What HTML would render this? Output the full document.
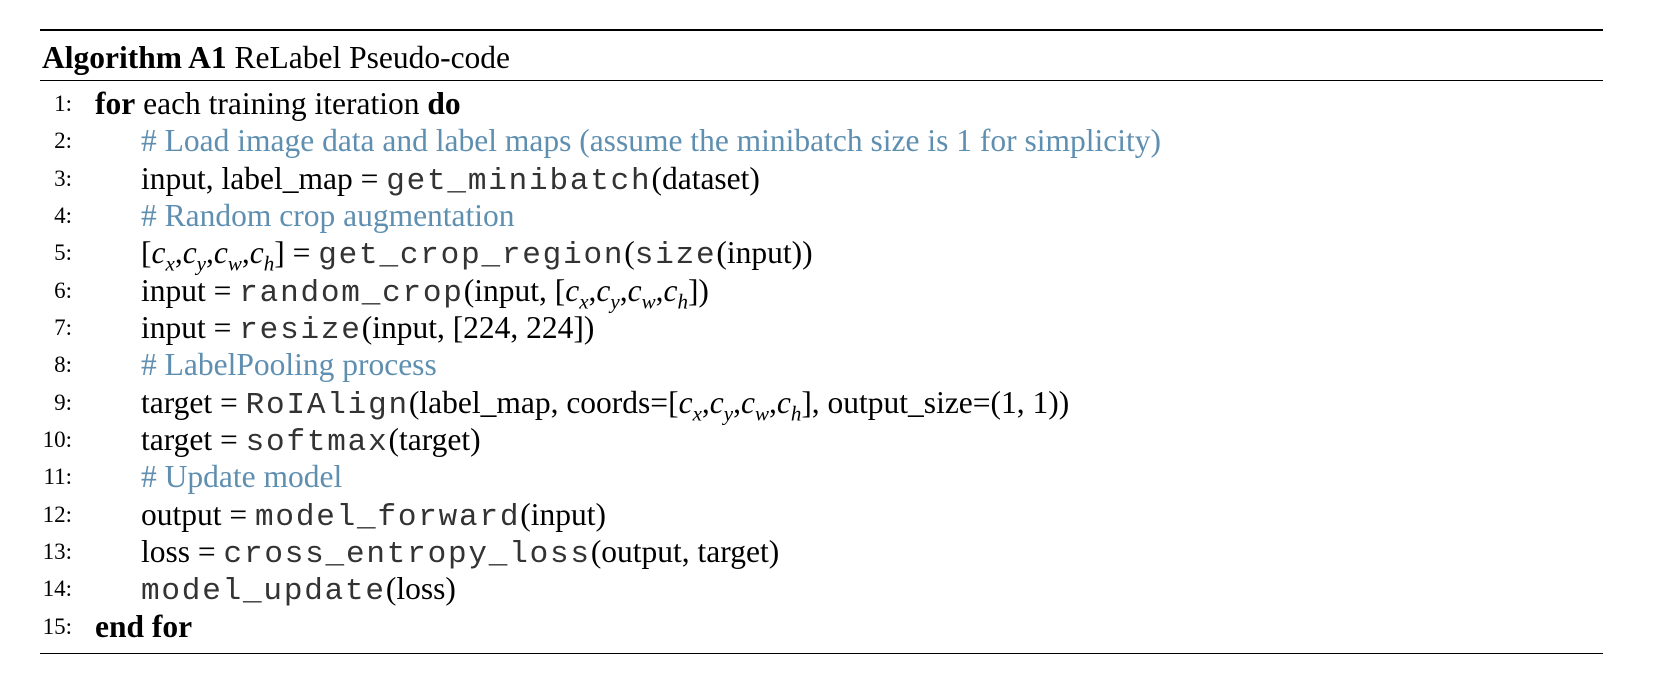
<!DOCTYPE html>
<html><head><meta charset="utf-8"><style>
body{margin:0;width:1658px;height:698px;background:#fff;position:relative;overflow:hidden;font-family:"Liberation Serif",serif;color:#000}
.rule{position:absolute;left:40px;width:1563px;background:#000}
.ln{position:absolute;left:0;width:1658px;height:38px;line-height:38px;font-size:31.5px;white-space:nowrap}
.num{position:absolute;left:0;width:72px;font-size:23px;text-align:right}
.txt{position:absolute}
.c{color:#5f8fb0}
.m{font-family:"Liberation Mono",monospace;font-size:31px;letter-spacing:1.8px;color:#333}
i sub{font-size:21px}
b{font-weight:bold}
</style></head><body>
<div class="rule" style="top:29px;height:2px"></div>
<div class="ln" style="top:39px;left:42px"><b>Algorithm A1</b> ReLabel Pseudo-code</div>
<div class="rule" style="top:80px;height:1px"></div>

<div class="ln" style="top:85px"><span class="num">1:</span><span class="txt" style="left:95px"><b>for</b> each training iteration <b>do</b></span></div>
<div class="ln" style="top:122px"><span class="num">2:</span><span class="txt c" style="left:141px"># Load image data and label maps (assume the minibatch size is 1 for simplicity)</span></div>
<div class="ln" style="top:160px"><span class="num">3:</span><span class="txt" style="left:141px">input, label_map = <span class="m">get_minibatch</span>(dataset)</span></div>
<div class="ln" style="top:197px"><span class="num">4:</span><span class="txt c" style="left:141px"># Random crop augmentation</span></div>
<div class="ln" style="top:234px"><span class="num">5:</span><span class="txt" style="left:141px">[<i>c<sub>x</sub></i>,<i>c<sub>y</sub></i>,<i>c<sub>w</sub></i>,<i>c<sub>h</sub></i>] = <span class="m">get_crop_region</span>(<span class="m">size</span>(input))</span></div>
<div class="ln" style="top:272px"><span class="num">6:</span><span class="txt" style="left:141px">input = <span class="m">random_crop</span>(input, [<i>c<sub>x</sub></i>,<i>c<sub>y</sub></i>,<i>c<sub>w</sub></i>,<i>c<sub>h</sub></i>])</span></div>
<div class="ln" style="top:309px"><span class="num">7:</span><span class="txt" style="left:141px">input = <span class="m">resize</span>(input, [224, 224])</span></div>
<div class="ln" style="top:346px"><span class="num">8:</span><span class="txt c" style="left:141px"># LabelPooling process</span></div>
<div class="ln" style="top:384px"><span class="num">9:</span><span class="txt" style="left:141px">target = <span class="m">RoIAlign</span>(label_map, coords=[<i>c<sub>x</sub></i>,<i>c<sub>y</sub></i>,<i>c<sub>w</sub></i>,<i>c<sub>h</sub></i>], output_size=(1, 1))</span></div>
<div class="ln" style="top:421px"><span class="num">10:</span><span class="txt" style="left:141px">target = <span class="m">softmax</span>(target)</span></div>
<div class="ln" style="top:458px"><span class="num">11:</span><span class="txt c" style="left:141px"># Update model</span></div>
<div class="ln" style="top:496px"><span class="num">12:</span><span class="txt" style="left:141px">output = <span class="m">model_forward</span>(input)</span></div>
<div class="ln" style="top:533px"><span class="num">13:</span><span class="txt" style="left:141px">loss = <span class="m">cross_entropy_loss</span>(output, target)</span></div>
<div class="ln" style="top:570px"><span class="num">14:</span><span class="txt" style="left:141px"><span class="m">model_update</span>(loss)</span></div>
<div class="ln" style="top:608px"><span class="num">15:</span><span class="txt" style="left:95px"><b>end for</b></span></div>

<div class="rule" style="top:653px;height:1px"></div>
</body></html>
